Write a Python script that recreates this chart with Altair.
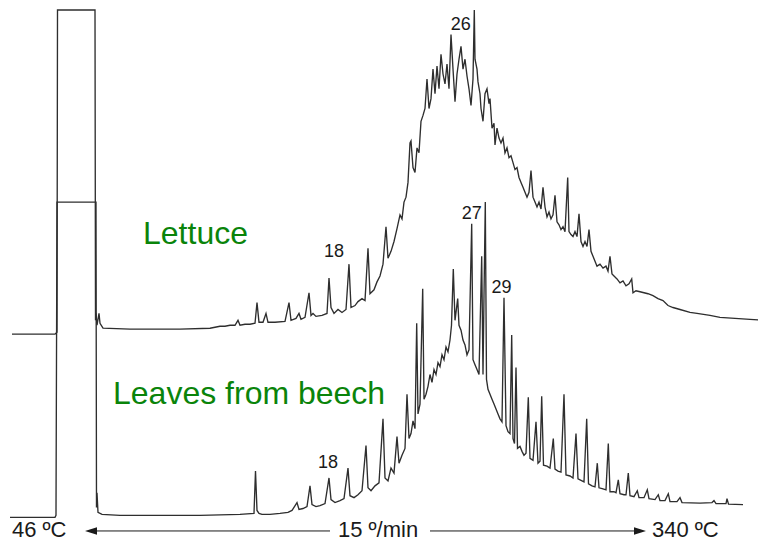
import altair as alt
import pandas as pd

# ---------------- data ----------------
# retention position (arbitrary units along the temperature programme) and detector signal
lettuce_time = [12, 55, 57, 57.5, 93, 95, 95.5, 96, 97, 99, 100, 103, 130, 180, 210, 215, 220, 225, 230, 235,
                238, 240, 245, 250, 255, 257, 259, 263, 266, 268, 275, 285, 289, 291, 296, 299, 301, 305, 309, 311,
                313, 316, 322, 327, 329, 331, 334, 338, 342, 346, 349, 351, 355, 358, 362, 365, 368, 370, 374, 377,
                380, 383, 386, 388, 391, 394, 397, 400, 402, 404, 406, 408, 410, 411, 413, 415, 417, 419, 421, 423,
                425, 427, 429, 431, 433, 435, 437, 439, 441, 443, 445, 447, 449, 451, 453, 455, 457, 459, 461, 463,
                465, 467, 469, 471, 473, 474.3, 475, 477, 478, 480, 481, 483, 485, 487, 489, 490, 492, 494, 495, 497,
                499, 501, 503, 505, 507, 509, 511, 513, 515, 517, 519, 521, 523, 525, 527, 529, 531, 533, 535, 537,
                539, 541, 543, 545, 547, 549, 551, 553, 555, 557, 559, 561, 563, 565, 567.7, 569, 571, 573, 575, 577,
                579, 581, 583, 585, 587, 589, 591, 593, 595, 597, 600, 603, 606, 608, 610, 612, 614, 617, 620, 623,
                626, 629, 631.7, 633, 636, 640, 644, 648, 653, 658, 663, 668, 673, 680, 690, 697, 710, 720, 735, 750,
                766]
lettuce_signal = [211, 211, 213, 540, 540, 540, 225, 232, 220, 232, 222, 217, 216, 216, 217, 218, 219, 219, 220, 220,
                  225, 220, 221, 221, 222, 243, 223, 223, 232, 223, 223, 224, 243, 225, 227, 232, 226, 228, 253, 230,
                  232, 229, 230, 232, 268, 238, 232, 236, 233, 236, 282, 238, 240, 244, 247, 245, 298, 252, 256, 264,
                  270, 282, 320, 288, 295, 305, 318, 332, 328, 345, 350, 365, 405, 407, 380, 375, 400, 395, 427, 433,
                  440, 470, 440, 450, 480, 455, 483, 460, 495, 475, 465, 485, 460, 515, 480, 447, 475, 490, 503, 480,
                  490, 473, 460, 443, 470, 540, 490, 480, 467, 455, 440, 427, 455, 460, 445, 450, 420, 425, 403, 420,
                  410, 405, 410, 395, 400, 390, 392, 385, 378, 380, 370, 365, 360, 355, 350, 355, 377, 350, 345, 340,
                  345, 338, 360, 340, 330, 335, 328, 332, 352, 325, 322, 317, 320, 315, 370, 315, 312, 310, 315, 310,
                  333, 305, 300, 305, 300, 317, 295, 290, 285, 280, 282, 278, 280, 275, 290, 272, 270, 267, 263, 265,
                  260, 262, 267, 253, 255, 254, 253, 252, 250, 247, 245, 240, 238, 236, 233, 232, 230, 228, 227, 226,
                  225]

beech_time = [10, 55, 56, 57, 95, 96, 96.5, 97, 98, 102, 120, 200, 240, 254, 255.5, 257, 259, 262, 270, 280,
              288, 292, 297, 299, 303, 307, 310, 312, 316, 320, 325, 329, 331, 335, 340, 344, 348, 350, 354, 358,
              362, 366, 368, 371, 375, 379, 383, 385, 388, 391, 394, 397, 399, 402, 405, 407, 409, 411, 413, 415,
              416.7, 418, 420, 422.7, 424, 426, 428, 430, 432, 434, 436, 438, 440, 442, 444, 446, 448, 450, 451.5, 453.3,
              455, 457.7, 459, 461, 463, 465, 467, 469, 471.7, 473, 475, 477, 479, 481.7, 483, 484, 485.3, 486.5, 488, 490,
              492, 494, 496, 498, 500, 502, 504, 506, 508, 510, 511.7, 513, 514.5, 516, 517.5, 520, 522, 524, 526, 528.3,
              530, 533, 536, 538, 540, 541.7, 543.5, 547, 550, 553.3, 555, 558, 561, 564, 566, 570, 573, 576, 578, 582,
              584, 586.7, 588.5, 592, 595, 597.3, 599, 603, 606, 608.3, 610, 614, 616, 618.3, 620, 624, 626, 628.3, 630, 634,
              637.3, 639, 644, 647.3, 649, 655, 658.3, 660, 665, 668.3, 670, 677, 680, 682, 700, 712, 714, 716, 726, 727,
              728.5, 743]
beech_signal = [25, 25, 27, 345, 345, 345, 35, 50, 30, 28, 27, 27, 28, 29, 72, 32, 29, 28, 28, 29,
                30, 32, 40, 33, 34, 36, 57, 38, 36, 37, 39, 65, 43, 40, 42, 44, 75, 47, 45, 48,
                52, 98, 55, 52, 57, 60, 125, 65, 62, 75, 70, 107, 80, 88, 95, 150, 105, 110, 123, 115,
                222, 130, 140, 257, 145, 150, 158, 170, 162, 175, 170, 182, 178, 190, 185, 198, 193, 205, 220, 277,
                225, 247, 220, 215, 205, 200, 190, 195, 323, 185, 180, 175, 170, 290, 170, 250, 345, 165, 155, 150,
                145, 140, 135, 130, 125, 122, 248, 118, 112, 110, 210, 105, 100, 177, 95, 97, 92, 88, 90, 147,
                85, 83, 122, 80, 82, 148, 78, 77, 75, 105, 74, 72, 71, 150, 68, 67, 65, 110, 64, 62,
                61, 125, 59, 57, 56, 80, 55, 54, 53, 100, 51, 51, 50, 63, 49, 48, 48, 70, 47, 46,
                52, 45, 45, 53, 44, 43, 48, 42, 42, 49, 41, 41, 45, 40, 39.5, 40, 42, 39, 39, 44,
                38.5, 38]

peak_labels = ["26", "18", "27", "29", "18"]
peak_label_time = [460.7, 334, 471.7, 501.5, 328]
peak_label_signal = [525, 294, 333, 258, 80]

sample_names = ["Lettuce", "Leaves from beech"]
sample_name_time = [143, 113]
sample_name_signal = [302, 140]

programme_labels = ["46 ºC", "15 º/min", "340 ºC"]
programme_label_time = [12, 338, 652]
programme_label_signal = [5.2, 5.2, 5.2]

arrow_from = [91, 430]
arrow_to = [330, 640]
arrow_signal = [11.2, 11.2]
arrow_head_time = [91, 640]
arrow_head_shape = ["M-1,0L1,-0.62L1,0.62Z", "M1,0L-1,-0.62L-1,0.62Z"]

# ---------------- build tables ----------------
rows = []
for i, (t, s) in enumerate(zip(lettuce_time, lettuce_signal)):
    rows.append({"t": t, "signal": s, "trace": "Lettuce", "idx": i})
for i, (t, s) in enumerate(zip(beech_time, beech_signal)):
    rows.append({"t": t, "signal": s, "trace": "Beech", "idx": i})
traces = pd.DataFrame(rows)

peaks = pd.DataFrame({"t": peak_label_time, "signal": peak_label_signal, "label": peak_labels})
names = pd.DataFrame({"t": sample_name_time, "signal": sample_name_signal, "label": sample_names})
prog = pd.DataFrame({"t": programme_label_time, "signal": programme_label_signal, "label": programme_labels})
arrows = pd.DataFrame({"t": arrow_from, "t2": arrow_to, "signal": arrow_signal})
heads = pd.DataFrame({"t": arrow_head_time, "signal": arrow_signal, "shape": arrow_head_shape})

xs = alt.Scale(domain=[8, 758], nice=False, zero=False)
ys = alt.Scale(domain=[0, 542], nice=False, zero=False)
X = alt.X("t:Q", scale=xs, axis=None)
Y = alt.Y("signal:Q", scale=ys, axis=None)

lines = alt.Chart(traces).mark_line(clip=True, color="#2e2e2e", strokeWidth=1.35).encode(
    x=X, y=Y, detail="trace:N", order="idx:Q"
)

peak_text = alt.Chart(peaks).mark_text(
    font="Liberation Sans", fontSize=18, color="#1a1a1a", align="center", baseline="middle"
).encode(x=X, y=Y, text="label:N")

name_text = alt.Chart(names).mark_text(
    font="Liberation Sans", fontSize=32, color="#0a840a", align="left", baseline="alphabetic"
).encode(x=X, y=Y, text="label:N")

prog_text = alt.Chart(prog).mark_text(
    font="Liberation Sans", fontSize=22, color="#1a1a1a", align="left", baseline="alphabetic"
).encode(x=X, y=Y, text="label:N")

arrow_lines = alt.Chart(arrows).mark_rule(color="#1a1a1a", strokeWidth=1).encode(
    x=X, x2="t2:Q", y=Y
)

head_left = alt.Chart(heads.iloc[[0]]).mark_point(
    shape=arrow_head_shape[0], filled=True, size=144, color="#1a1a1a", opacity=1
).encode(x=X, y=Y)
head_right = alt.Chart(heads.iloc[[1]]).mark_point(
    shape=arrow_head_shape[1], filled=True, size=144, color="#1a1a1a", opacity=1
).encode(x=X, y=Y)

chart = alt.layer(lines, peak_text, name_text, prog_text, arrow_lines, head_left, head_right).properties(
    width=750, height=534, padding=0, background="white", autosize=alt.AutoSizeParams(type="none")
).configure_view(stroke=None)

chart.save("out.html", embed_options={"renderer": "svg", "actions": False})
